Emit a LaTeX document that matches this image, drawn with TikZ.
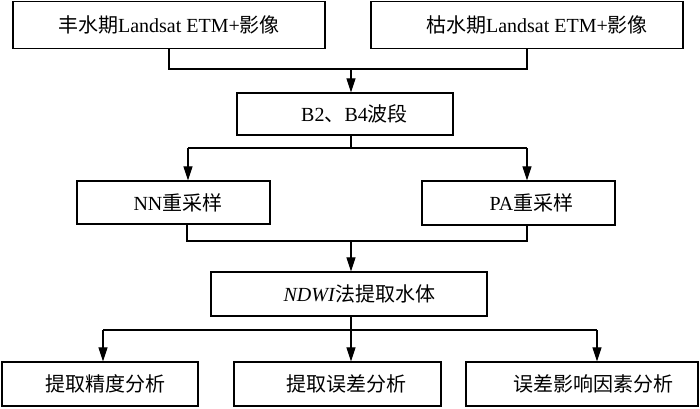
\documentclass[tikz,border=0pt]{standalone}
\usepackage{fontspec}
\setmainfont{Liberation Serif}
\newfontfamily\cjk{Noto Sans CJK SC}
\usetikzlibrary{arrows.meta}
\begin{document}
\begin{tikzpicture}[x=1pt,y=1pt,
  box/.style={draw, line width=1.2pt, inner sep=0pt, font=\fontsize{20}{22}\selectfont, anchor=center},
  conn/.style={line width=1.1pt},
  arr/.style={line width=1.1pt, -{Triangle[length=14pt,width=9pt]}}]
\useasboundingbox (0,0) rectangle (700,-408);
\node[box, minimum width=312pt, minimum height=47pt] (b1) at (169,-25) {{\cjk 丰水期}Landsat ETM+{\cjk 影像}\hspace{12pt}};
\node[box, minimum width=312pt, minimum height=47pt] (b2) at (527,-25) {\hspace{20pt}{\cjk 枯水期}Landsat ETM+{\cjk 影像}};
\node[box, minimum width=216pt, minimum height=42pt] (b3) at (345,-114) {\hspace{19pt}B2{\cjk 、}B4{\cjk 波段}};
\node[box, minimum width=193pt, minimum height=43pt] (nn) at (173.5,-202.5) {\hspace{9pt}NN{\cjk 重采样}};
\node[box, minimum width=193pt, minimum height=44pt] (pa) at (518.5,-203) {\hspace{26pt}PA{\cjk 重采样}};
\node[box, minimum width=276pt, minimum height=44pt] (nd) at (349,-294) {\hspace{21pt}\textit{NDWI}{\cjk 法提取水体}};
\node[box, minimum width=196pt, minimum height=44pt] (r1) at (100,-384) {\hspace{11pt}{\cjk 提取精度分析}};
\node[box, minimum width=207pt, minimum height=44pt] (r2) at (337.5,-384) {\hspace{17pt}{\cjk 提取误差分析}};
\node[box, minimum width=232pt, minimum height=44pt] (r3) at (582,-384) {\hspace{22pt}{\cjk 误差影响因素分析}};
% level 1
\coordinate (j1) at (351,-69);
\draw[conn] (b1.south) |- (j1);
\draw[conn] (b2.south) |- (j1);
\draw[arr] (j1) -- (j1 |- b3.north);
% level 2
\coordinate (j2) at (351,-148);
\coordinate (j2l) at (188,-148);
\coordinate (j2r) at (527,-148);
\draw[conn] (j2 |- b3.south) -- (j2);
\draw[conn] (j2l) -- (j2r);
\draw[arr] (j2l) -- (j2l |- nn.north);
\draw[arr] (j2r) -- (j2r |- pa.north);
% level 3
\coordinate (j3) at (351,-241);
\coordinate (j3l) at (187,-241);
\coordinate (j3r) at (527,-241);
\draw[conn] (j3l |- nn.south) -- (j3l) -- (j3r) -- (j3r |- pa.south);
\draw[arr] (j3) -- (j3 |- nd.north);
% level 4
\coordinate (j4) at (351,-330);
\coordinate (j4l) at (103,-330);
\coordinate (j4r) at (597,-330);
\draw[conn] (j4 |- nd.south) -- (j4);
\draw[conn] (j4l) -- (j4r);
\draw[arr] (j4l) -- (j4l |- r1.north);
\draw[arr] (j4) -- (j4 |- r2.north);
\draw[arr] (j4r) -- (j4r |- r3.north);
\end{tikzpicture}
\end{document}
